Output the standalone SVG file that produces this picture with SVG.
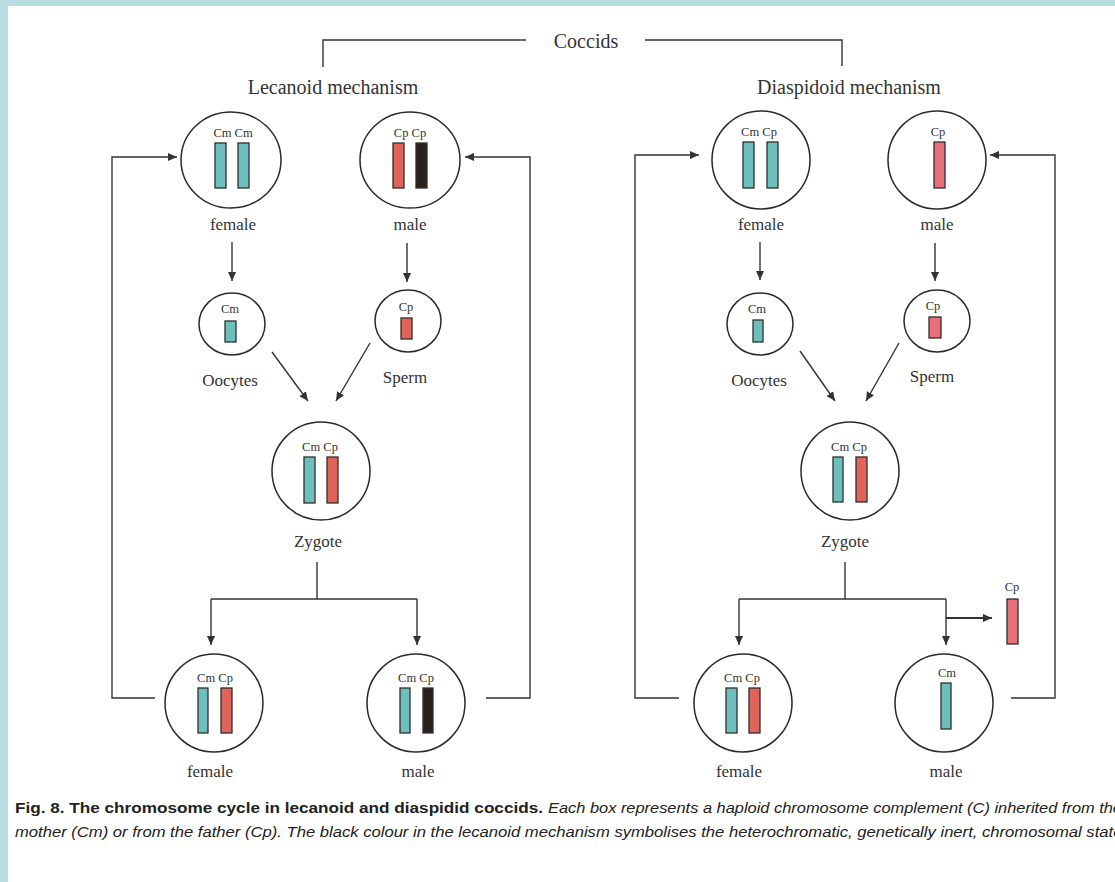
<svg xmlns="http://www.w3.org/2000/svg" width="1115" height="882" viewBox="0 0 1115 882">
<style>
.bg{fill:#badfe3}
.paper{fill:#ffffff}
.cell{fill:#ffffff;stroke:#2a2a2a;stroke-width:1.5}
.chr{stroke:#2e2e2e;stroke-width:1.3}
.cm{fill:#6dbfbd}
.cp{fill:#e0645a}
.pk{fill:#e8707a}
.bk{fill:#2b211c}
.ln{fill:none;stroke:#333;stroke-width:1.4}
.arr{fill:none;stroke:#333;stroke-width:1.4;marker-end:url(#ah)}
.lbl{font-family:"Liberation Serif","Times New Roman",serif;font-size:17px;fill:#333;text-anchor:middle}
.sm{font-family:"Liberation Serif","Times New Roman",serif;font-size:12.5px;fill:#333;text-anchor:middle}
.hd{font-family:"Liberation Serif","Times New Roman",serif;font-size:20px;fill:#333;text-anchor:middle}
.cap{font-family:"Liberation Sans",Arial,sans-serif;font-size:15.5px;fill:#222}
</style>
<defs>
<marker id="ah" viewBox="0 0 10 10" refX="10" refY="5" markerWidth="9" markerHeight="9" markerUnits="userSpaceOnUse" orient="auto">
<path d="M0,0.5 L10,5 L0,9.5 z" fill="#333"/>
</marker>
</defs>
<rect class="bg" x="0" y="0" width="1115" height="882"/>
<rect class="paper" x="8" y="6" width="1107" height="876"/>

<g id="header">
<text class="hd" x="586" y="48">Coccids</text>
<text class="hd" x="333" y="94">Lecanoid mechanism</text>
<text class="hd" x="849" y="94">Diaspidoid mechanism</text>
</g>

<g id="connectors">
<polyline class="ln" points="323,67 323,40 526,40"/>
<polyline class="ln" points="645,40 842,40 842,66"/>
<!-- left panel -->
<line class="arr" x1="232" y1="242" x2="232" y2="281"/>
<line class="arr" x1="407" y1="243" x2="407" y2="282"/>
<line class="arr" x1="272" y1="352" x2="308" y2="401"/>
<line class="arr" x1="370" y1="343" x2="336" y2="401"/>
<line class="ln" x1="317" y1="562" x2="317" y2="599"/>
<line class="ln" x1="211" y1="599" x2="417" y2="599"/>
<line class="arr" x1="211" y1="599" x2="211" y2="645"/>
<line class="arr" x1="417" y1="599" x2="417" y2="645"/>
<polyline class="arr" points="155,698 112,698 112,157 177,157"/>
<polyline class="arr" points="486,698 530,698 530,157 465,157"/>
<!-- right panel -->
<line class="arr" x1="760" y1="242" x2="760" y2="280"/>
<line class="arr" x1="935" y1="243" x2="935" y2="281"/>
<line class="arr" x1="800" y1="351" x2="835" y2="401"/>
<line class="arr" x1="899" y1="343" x2="866" y2="401"/>
<line class="ln" x1="845" y1="562" x2="845" y2="599"/>
<line class="ln" x1="739" y1="599" x2="946" y2="599"/>
<line class="arr" x1="739" y1="599" x2="739" y2="645"/>
<line class="arr" x1="946" y1="599" x2="946" y2="645"/>
<line class="arr" x1="946" y1="618" x2="992" y2="618" style="stroke-width:2"/>
<polyline class="arr" points="679,698 635,698 635,155 699,155"/>
<polyline class="arr" points="1011,698 1055,698 1055,155 990,155"/>
</g>

<!-- Lecanoid nodes -->
<g id="lec-female">
<ellipse class="cell" cx="231" cy="160" rx="50" ry="48"/>
<text class="sm" x="233" y="137">Cm Cm</text>
<rect class="chr cm" x="215" y="143" width="11" height="45"/>
<rect class="chr cm" x="238" y="143" width="11" height="45"/>
<text class="lbl" x="233" y="230">female</text>
</g>
<g id="lec-male">
<ellipse class="cell" cx="410" cy="160" rx="50" ry="48"/>
<text class="sm" x="410" y="137">Cp  Cp</text>
<rect class="chr cp" x="393" y="143" width="11" height="45"/>
<rect class="chr bk" x="416" y="143" width="11" height="45"/>
<text class="lbl" x="410" y="230">male</text>
</g>
<g id="lec-oocytes">
<ellipse class="cell" cx="232" cy="324" rx="33" ry="31"/>
<text class="sm" x="230" y="313">Cm</text>
<rect class="chr cm" x="225" y="321" width="11" height="21"/>
<text class="lbl" x="230" y="386">Oocytes</text>
</g>
<g id="lec-sperm">
<ellipse class="cell" cx="408" cy="321" rx="33" ry="31"/>
<text class="sm" x="406" y="311">Cp</text>
<rect class="chr cp" x="401" y="318" width="11" height="21"/>
<text class="lbl" x="405" y="383">Sperm</text>
</g>
<g id="lec-zygote">
<ellipse class="cell" cx="321" cy="471" rx="49" ry="49"/>
<text class="sm" x="320" y="451">Cm Cp</text>
<rect class="chr cm" x="304" y="457" width="11" height="46"/>
<rect class="chr cp" x="327" y="457" width="11" height="46"/>
<text class="lbl" x="318" y="547">Zygote</text>
</g>
<g id="lec-female2">
<ellipse class="cell" cx="214" cy="703" rx="49" ry="49"/>
<text class="sm" x="215" y="682">Cm Cp</text>
<rect class="chr cm" x="198" y="688" width="10" height="45"/>
<rect class="chr cp" x="221" y="688" width="11" height="45"/>
<text class="lbl" x="210" y="777">female</text>
</g>
<g id="lec-male2">
<ellipse class="cell" cx="416" cy="703" rx="49" ry="49"/>
<text class="sm" x="416" y="682">Cm Cp</text>
<rect class="chr cm" x="400" y="688" width="10" height="45"/>
<rect class="chr bk" x="423" y="688" width="10" height="45"/>
<text class="lbl" x="418" y="777">male</text>
</g>

<!-- Diaspidoid nodes -->
<g id="dia-female">
<ellipse class="cell" cx="761" cy="160" rx="49" ry="49"/>
<text class="sm" x="759" y="136">Cm Cp</text>
<rect class="chr cm" x="743" y="142" width="11" height="46"/>
<rect class="chr cm" x="767" y="142" width="11" height="46"/>
<text class="lbl" x="761" y="230">female</text>
</g>
<g id="dia-male">
<ellipse class="cell" cx="937" cy="160" rx="49" ry="49"/>
<text class="sm" x="938" y="136">Cp</text>
<rect class="chr pk" x="934" y="142" width="11" height="46"/>
<text class="lbl" x="937" y="230">male</text>
</g>
<g id="dia-oocytes">
<ellipse class="cell" cx="760" cy="324" rx="33" ry="31"/>
<text class="sm" x="757" y="313">Cm</text>
<rect class="chr cm" x="753" y="320" width="10" height="22"/>
<text class="lbl" x="759" y="386">Oocytes</text>
</g>
<g id="dia-sperm">
<ellipse class="cell" cx="937" cy="321" rx="33" ry="31"/>
<text class="sm" x="933" y="310">Cp</text>
<rect class="chr pk" x="929" y="317" width="12" height="21"/>
<text class="lbl" x="932" y="382">Sperm</text>
</g>
<g id="dia-zygote">
<ellipse class="cell" cx="850" cy="471" rx="49" ry="49"/>
<text class="sm" x="849" y="451">Cm Cp</text>
<rect class="chr cm" x="833" y="457" width="10" height="45"/>
<rect class="chr cp" x="856" y="457" width="11" height="45"/>
<text class="lbl" x="845" y="547">Zygote</text>
</g>
<g id="dia-female2">
<ellipse class="cell" cx="743" cy="703" rx="49" ry="49"/>
<text class="sm" x="742" y="682">Cm Cp</text>
<rect class="chr cm" x="726" y="688" width="11" height="45"/>
<rect class="chr cp" x="749" y="688" width="11" height="45"/>
<text class="lbl" x="739" y="777">female</text>
</g>
<g id="dia-male2">
<ellipse class="cell" cx="944" cy="703" rx="49" ry="49"/>
<text class="sm" x="947" y="677">Cm</text>
<rect class="chr cm" x="941" y="683" width="10" height="46"/>
<text class="lbl" x="946" y="777">male</text>
</g>
<g id="dia-cp-lost">
<text class="sm" x="1012" y="591">Cp</text>
<rect class="chr pk" x="1007" y="599" width="11" height="45"/>
</g>

<g id="caption">
<text class="cap" x="15" y="813" font-weight="bold" textLength="528" lengthAdjust="spacingAndGlyphs">Fig. 8. The chromosome cycle in lecanoid and diaspidid coccids.</text>
<text class="cap" x="548" y="813" font-style="italic" textLength="574" lengthAdjust="spacingAndGlyphs">Each box represents a haploid chromosome complement (C) inherited from the</text>
<text class="cap" x="15" y="837" font-style="italic" textLength="1112" lengthAdjust="spacingAndGlyphs">mother (Cm) or from the father (Cp). The black colour in the lecanoid mechanism symbolises the heterochromatic, genetically inert, chromosomal state.</text>
</g>
</svg>
